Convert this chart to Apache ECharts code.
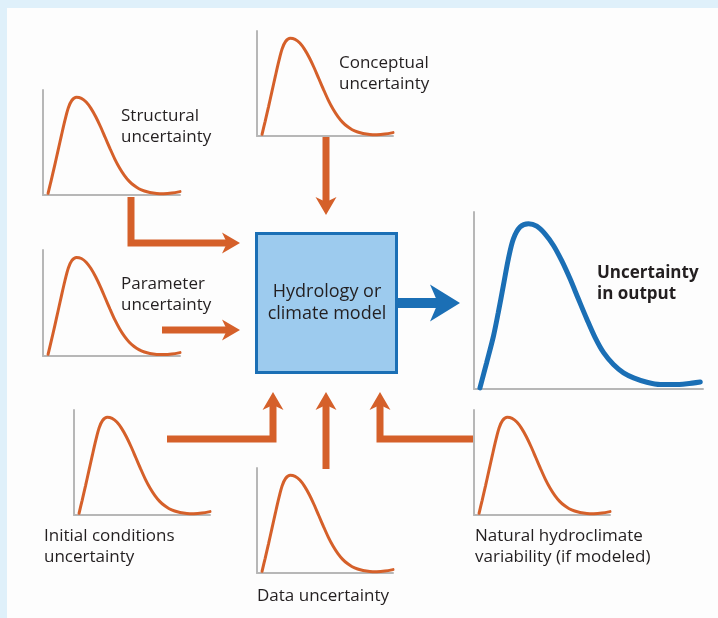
<!DOCTYPE html>
<html>
<head>
<meta charset="utf-8">
<script src="https://cdn.jsdelivr.net/npm/echarts@6/dist/echarts.min.js"></script>
<style>
  html, body { margin: 0; padding: 0; background: #dff0fa; }
  #main { width: 718px; height: 618px; }
</style>
</head>
<body>
<div id="main"></div>
<script>
// shape of the small orange density curves (0-100 on both axes)
var curveX = [3.7, 6, 8.5, 11, 13.5, 16, 18.5, 21, 24.4, 28, 31.5, 35, 38.5, 42, 45.5, 49, 52.5, 56, 59.5, 63, 66.5, 70, 74, 78, 83, 88, 94, 100];
var curveY = [1.6, 14, 28, 42.5, 57, 71, 83, 90, 93, 92, 88.5, 82.5, 74.5, 65, 54.5, 44, 34, 25.5, 18.5, 13, 9, 6, 3.8, 2.4, 1.5, 1.3, 1.8, 3.2];
// the big blue output curve
var outputX = [2.6, 5.5, 8.5, 10.6, 12.8, 15, 17.2, 20.1, 23.8, 27.4, 31, 34.7, 38.3, 42, 45.6, 49.3, 52.9, 56.6, 60.9, 65.3, 69.7, 75.5, 81.3, 87.2, 93, 98.8];
var outputY = [0.6, 14.8, 29.9, 43.2, 58.3, 73.5, 84.8, 91.5, 93.4, 92, 87.7, 81.1, 72.5, 62.1, 50.8, 39.4, 29, 20.5, 13.8, 9.1, 6.3, 3.8, 2.5, 2.5, 3, 4];

var sourceNames = ['Structural', 'Conceptual', 'Parameter', 'Initial conditions', 'Data', 'Natural hydroclimate'];
var sourceLabels = [
    ['Structural', 'uncertainty'],
    ['Conceptual', 'uncertainty'],
    ['Parameter', 'uncertainty'],
    ['Initial conditions', 'uncertainty'],
    ['Data uncertainty'],
    ['Natural hydroclimate', 'variability (if modeled)']
];
var modelLabel = ['Hydrology or', 'climate model'];
var outputLabel = ['Uncertainty', 'in output'];

var ORANGE = '#d5602a';
var BLUE = '#1b6fb5';
var AXIS = '#b7b7b7';
var FONT = '"Open Sans", Lato, sans-serif';

// plot boxes [left, top, width, height]
var boxes = [
    [43, 90, 137, 105],
    [257, 31, 136, 105],
    [43, 250, 137, 106],
    [74, 410, 136, 105],
    [257, 468, 136, 105],
    [474, 410, 136, 105]
];
// where the labels sit [x, y of first line]
var labelPos = [
    [121, 116], [339, 63], [121, 284], [44, 536], [257, 596], [475, 536]
];

function pairs(xs, ys) {
    return xs.map(function (x, i) { return [x, ys[i]]; });
}

var grids = [], xAxes = [], yAxes = [], series = [];

function addPlot(box, data, color, width, name) {
    var i = grids.length;
    grids.push({ left: box[0], top: box[1], width: box[2], height: box[3] });
    xAxes.push({
        type: 'value', gridIndex: i, min: 0, max: 100,
        axisLine: { show: true, onZero: false, lineStyle: { color: AXIS, width: 2 } },
        axisTick: { show: false }, axisLabel: { show: false }, splitLine: { show: false }
    });
    yAxes.push({
        type: 'value', gridIndex: i, min: 0, max: 100,
        axisLine: { show: true, onZero: false, lineStyle: { color: AXIS, width: 2 } },
        axisTick: { show: false }, axisLabel: { show: false }, splitLine: { show: false }
    });
    series.push({
        name: name, type: 'line', xAxisIndex: i, yAxisIndex: i,
        data: data, smooth: 0.3, showSymbol: false, silent: true,
        lineStyle: { color: color, width: width, cap: 'round' }
    });
}

boxes.forEach(function (b, i) {
    addPlot(b, pairs(curveX, curveY), ORANGE, 3, sourceNames[i]);
});
addPlot([474, 212, 229, 177], pairs(outputX, outputY), BLUE, 5, 'Output');

var graphics = [];
graphics.push({
    type: 'rect', z: -10, silent: true,
    shape: { x: 7, y: 8, width: 711, height: 610 },
    style: { fill: '#fdfdfd' }
});

// arrow: polyline shaft + notched head
function arrow(pts, color, w, headLen, headHalf, notch) {
    var n = pts.length;
    var tip = pts[n - 1], prev = pts[n - 2];
    var dx = tip[0] - prev[0], dy = tip[1] - prev[1];
    var len = Math.sqrt(dx * dx + dy * dy);
    dx /= len; dy /= len;
    var nx = -dy, ny = dx;
    var shaft = pts.slice(0, n - 1);
    shaft.push([tip[0] - dx * (notch - 2), tip[1] - dy * (notch - 2)]);
    graphics.push({
        type: 'polyline', silent: true,
        shape: { points: shaft },
        style: { stroke: color, lineWidth: w, fill: null, lineJoin: 'miter', lineCap: 'butt' }
    });
    graphics.push({
        type: 'polygon', silent: true,
        shape: { points: [
            tip,
            [tip[0] - dx * headLen + nx * headHalf, tip[1] - dy * headLen + ny * headHalf],
            [tip[0] - dx * notch, tip[1] - dy * notch],
            [tip[0] - dx * headLen - nx * headHalf, tip[1] - dy * headLen - ny * headHalf]
        ] },
        style: { fill: color }
    });
}

arrow([[326, 137], [326, 215]], ORANGE, 7, 18, 10.5, 13);
arrow([[131, 197], [131, 243], [240, 243]], ORANGE, 7, 18, 10.5, 13);
arrow([[162, 330], [240, 330]], ORANGE, 7, 18, 10.5, 13);
arrow([[167, 439], [273, 439], [273, 392]], ORANGE, 7, 18, 10.5, 13);
arrow([[326, 469], [326, 392]], ORANGE, 7, 18, 10.5, 13);
arrow([[473, 439], [380, 439], [380, 392]], ORANGE, 7, 18, 10.5, 13);
arrow([[398, 303], [460, 303]], BLUE, 10, 30, 18.5, 22);

// model box
graphics.push({
    type: 'rect', silent: true,
    shape: { x: 256.5, y: 233.5, width: 140, height: 139 },
    style: { fill: '#9dcbee', stroke: BLUE, lineWidth: 3 }
});

function text(str, x, y, opts) {
    graphics.push({
        type: 'text', silent: true, x: x, y: y,
        style: {
            text: str, fill: '#231f20',
            font: (opts && opts.font) || ('17px ' + FONT),
            align: (opts && opts.align) || 'left',
            verticalAlign: 'middle'
        }
    });
}

sourceLabels.forEach(function (lines, i) {
    lines.forEach(function (s, j) {
        text(s, labelPos[i][0], labelPos[i][1] + j * 21.5);
    });
});
modelLabel.forEach(function (s, j) {
    text(s, 327, 292 + j * 21.5, { align: 'center', font: '18px ' + FONT });
});
outputLabel.forEach(function (s, j) {
    text(s, 597, 273 + j * 21.5, { font: 'bold 17px ' + FONT });
});

var myChart = echarts.init(document.getElementById('main'));
myChart.setOption({
    backgroundColor: '#dff0fa',
    animation: false,
    grid: grids,
    xAxis: xAxes,
    yAxis: yAxes,
    series: series,
    graphic: graphics
});
</script>
</body>
</html>
